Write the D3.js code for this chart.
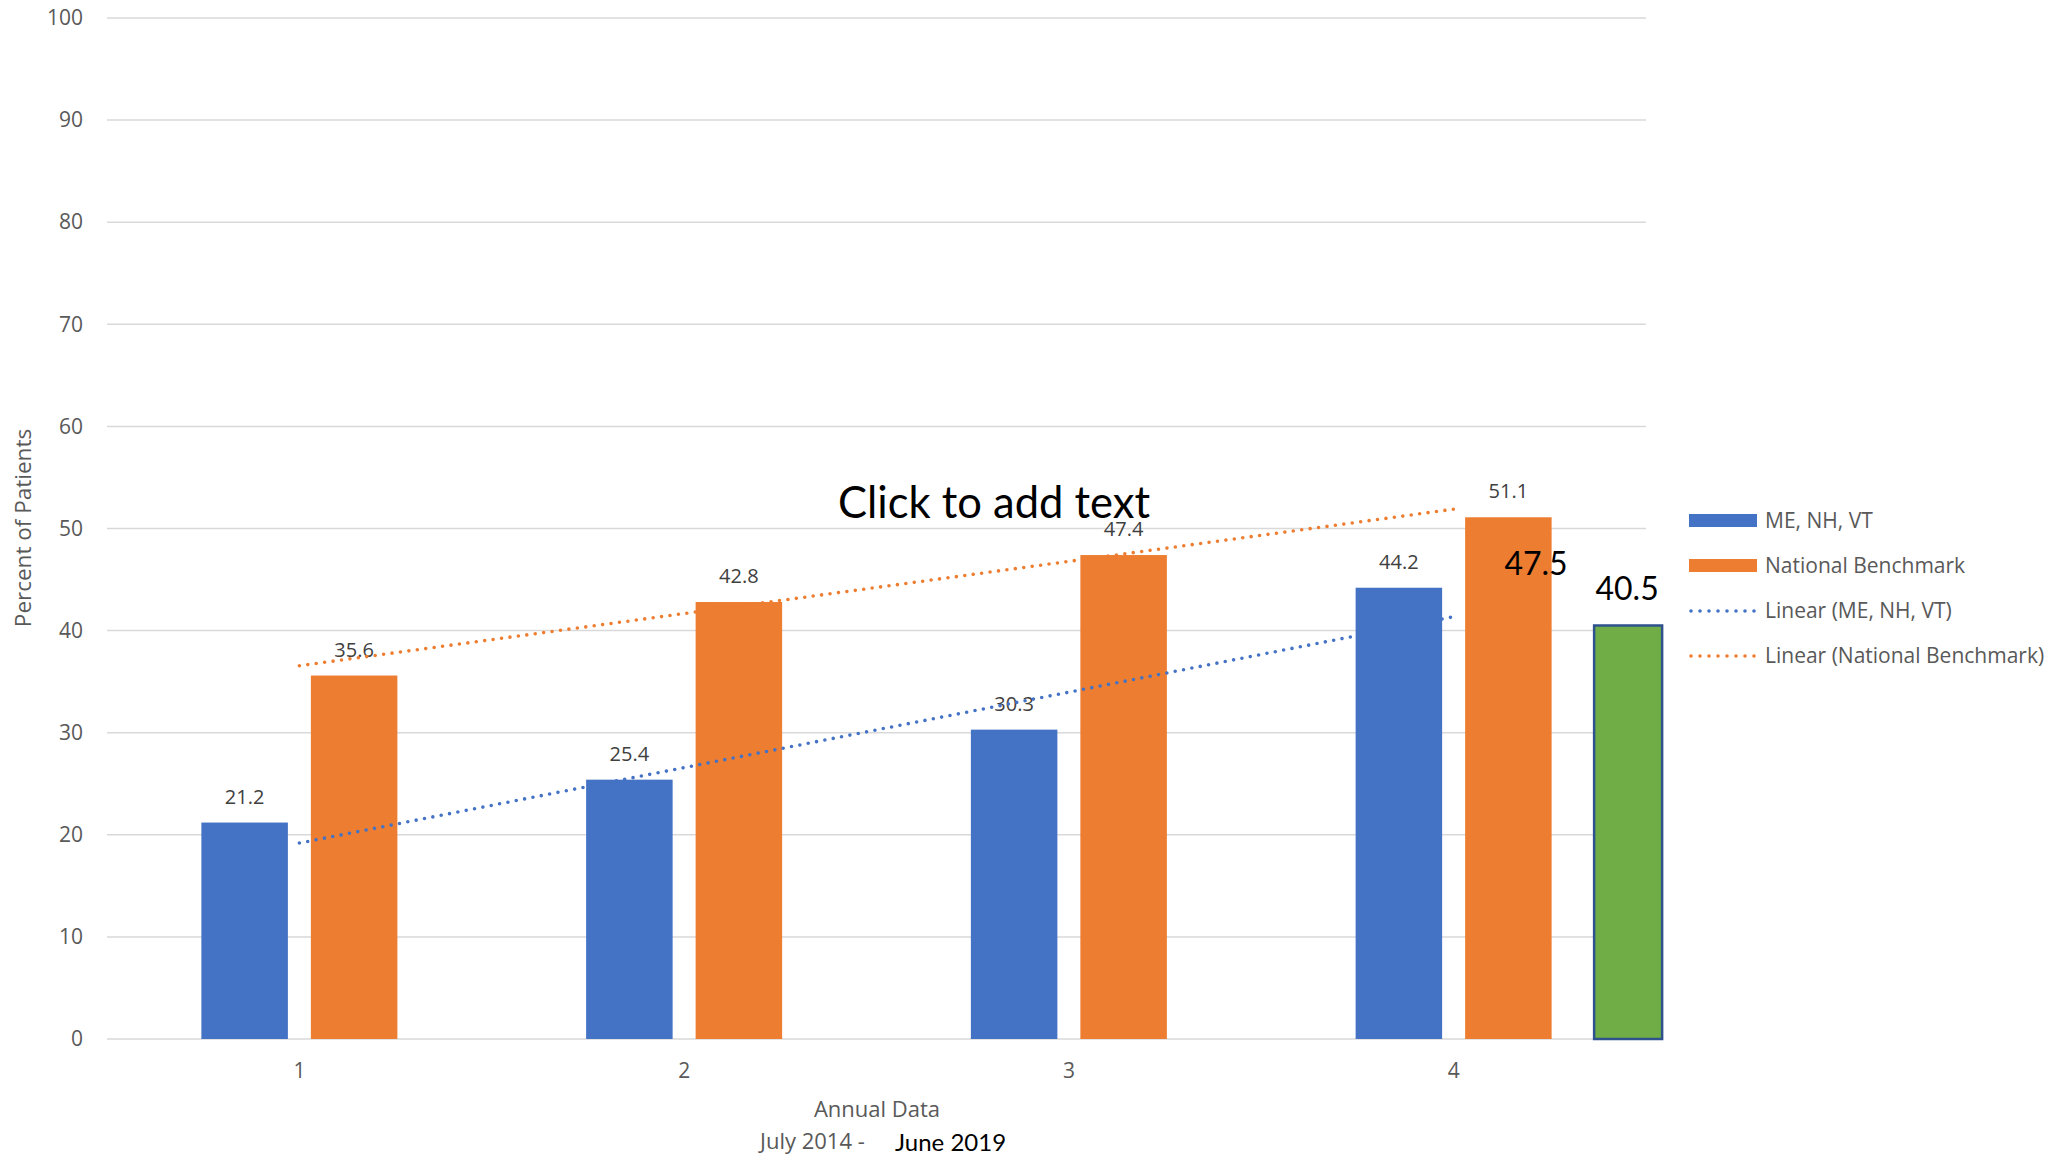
<!DOCTYPE html>
<html>
<head>
<meta charset="utf-8">
<script src="https://cdn.jsdelivr.net/npm/d3@7/dist/d3.min.js"></script>
<style>
  html, body { margin: 0; padding: 0; background: #fff; }
  svg { display: block; }
</style>
</head>
<body>
<svg id="chart" width="2057" height="1156"></svg>
<script>
// Annual data, July 2014 - June 2019
const categories = ["1", "2", "3", "4"];
const seriesNames = ["ME, NH, VT", "National Benchmark"];
const regionValues = [21.2, 25.4, 30.3, 44.2];
const benchmarkValues = [35.6, 42.8, 47.4, 51.1];
const yTicks = [0, 10, 20, 30, 40, 50, 60, 70, 80, 90, 100];
const highlightValue = 40.5;     // green box beside year 4
const calloutValue = 47.5;       // large figure over the year-4 benchmark bar
const legendLabels = ["ME, NH, VT", "National Benchmark", "Linear (ME, NH, VT)", "Linear (National Benchmark)"];

const colors = { region: "#4472C4", bench: "#ED7D31", green: "#70AD47", greenEdge: "#2F528F",
                 grid: "#D9D9D9", axisText: "#595959", label: "#404040" };
const grayFont = "'Open Sans', 'Noto Sans', sans-serif";
const blackFont = "Lato, 'Open Sans', sans-serif";

const svg = d3.select("#chart");
const plot = { left: 107, right: 1646, top: 18, bottom: 1039 };

const x = d3.scaleBand().domain(categories).range([plot.left, plot.right]).padding(0);
const y = d3.scaleLinear().domain([0, 100]).range([plot.bottom, plot.top]);
const xSub = d3.scaleBand().domain(seriesNames).range([-98, 98]).paddingInner(0.21);

// gridlines
svg.append("g").selectAll("line").data(yTicks).join("line")
  .attr("x1", plot.left).attr("x2", plot.right)
  .attr("y1", d => y(d)).attr("y2", d => y(d))
  .attr("stroke", colors.grid).attr("stroke-width", 1.5);

// y axis tick labels
const yAxis = d3.axisLeft(y).tickValues(yTicks).tickSize(0).tickPadding(0);
const yg = svg.append("g").attr("transform", `translate(83,0)`).call(yAxis);
yg.select(".domain").remove();
yg.selectAll("text").attr("fill", colors.axisText).style("font-family", grayFont).style("font-size", "21px");

// x axis tick labels
const xAxis = d3.axisBottom(x).tickSize(0).tickPadding(0);
const xg = svg.append("g").attr("transform", `translate(0,1063)`).call(xAxis);
xg.select(".domain").remove();
xg.selectAll("text").attr("fill", colors.axisText).style("font-family", grayFont).style("font-size", "21px");

// bars
const rows = categories.map((c, i) => ({ c, vals: [regionValues[i], benchmarkValues[i]] }));
const seriesColors = [colors.region, colors.bench];
const groups = svg.append("g").selectAll("g").data(rows).join("g")
  .attr("transform", d => `translate(${x(d.c) + x.bandwidth() / 2},0)`);
groups.selectAll("rect").data(d => d.vals.map((v, k) => ({ v, k }))).join("rect")
  .attr("x", d => xSub(seriesNames[d.k]))
  .attr("width", xSub.bandwidth())
  .attr("y", d => y(d.v))
  .attr("height", d => y(0) - y(d.v))
  .attr("fill", d => seriesColors[d.k]);

// data labels
groups.selectAll("text").data(d => d.vals.map((v, k) => ({ v, k }))).join("text")
  .attr("x", d => xSub(seriesNames[d.k]) + xSub.bandwidth() / 2)
  .attr("y", d => y(d.v) - 19)
  .attr("text-anchor", "middle")
  .attr("fill", colors.label)
  .style("font-family", grayFont).style("font-size", "20px")
  .text(d => d.v.toFixed(1));

// linear trendlines (least squares over category index)
function linearFit(vals) {
  const xs = vals.map((_, i) => i + 1);
  const mx = d3.mean(xs), my = d3.mean(vals);
  const slope = d3.sum(xs, (xi, i) => (xi - mx) * (vals[i] - my)) / d3.sum(xs, xi => (xi - mx) ** 2);
  return xi => my + slope * (xi - mx);
}
const centerX = i => x(categories[i]) + x.bandwidth() / 2;
[[regionValues, colors.region], [benchmarkValues, colors.bench]].forEach(([vals, col]) => {
  const f = linearFit(vals);
  const pts = [1, vals.length].map(xi => [centerX(xi - 1), y(f(xi))]);
  svg.append("path").attr("d", d3.line()(pts))
    .attr("fill", "none").attr("stroke", col).attr("stroke-width", 3.6)
    .attr("stroke-linecap", "round").attr("stroke-dasharray", "0 8.5");
});

// green highlight box beside year 4
const gx = x("4") + x.bandwidth() / 2 + 140.5;
svg.append("rect")
  .attr("x", gx).attr("width", 68)
  .attr("y", y(highlightValue)).attr("height", y(0) - y(highlightValue))
  .attr("fill", colors.green).attr("stroke", colors.greenEdge).attr("stroke-width", 2.5);
svg.append("text").attr("x", gx + 33).attr("y", 600).attr("text-anchor", "middle")
  .style("font-family", blackFont).style("font-size", "32px").attr("fill", "#000")
  .text(highlightValue.toFixed(1));
svg.append("text").attr("x", 1536).attr("y", 575).attr("text-anchor", "middle")
  .style("font-family", blackFont).style("font-size", "32px").attr("fill", "#000")
  .text(calloutValue.toFixed(1));

// placeholder title box text
svg.append("text").attr("x", 994).attr("y", 518).attr("text-anchor", "middle")
  .style("font-family", blackFont).style("font-size", "43.5px").attr("fill", "#000")
  .text("Click to add text");

// axis titles
svg.append("text").attr("transform", "translate(31,528) rotate(-90)").attr("text-anchor", "middle")
  .attr("fill", colors.axisText).style("font-family", grayFont).style("font-size", "22.5px")
  .text("Percent of Patients");
svg.append("text").attr("x", 877).attr("y", 1117).attr("text-anchor", "middle")
  .attr("fill", colors.axisText).style("font-family", grayFont).style("font-size", "22px")
  .text("Annual Data");
svg.append("text").attr("x", 760).attr("y", 1149)
  .attr("fill", colors.axisText).style("font-family", grayFont).style("font-size", "22px")
  .text("July 2014 -");
svg.append("text").attr("x", 895).attr("y", 1151)
  .attr("fill", "#000").style("font-family", blackFont).style("font-size", "24px")
  .text("June 2019");

// legend
const legend = svg.append("g").attr("transform", "translate(1689,0)");
const legendY = [521, 566, 611, 656];
const legendItems = legendLabels.map((t, i) => ({ t, i, col: i % 2 === 0 ? colors.region : colors.bench, line: i >= 2 }));
const li = legend.selectAll("g").data(legendItems).join("g")
  .attr("transform", d => `translate(0,${legendY[d.i]})`);
li.filter(d => !d.line).append("rect")
  .attr("x", 0).attr("y", -7).attr("width", 68).attr("height", 13).attr("fill", d => d.col);
li.filter(d => d.line).append("line")
  .attr("x1", 2).attr("x2", 66).attr("y1", 0).attr("y2", 0)
  .attr("stroke", d => d.col).attr("stroke-width", 3.6)
  .attr("stroke-linecap", "round").attr("stroke-dasharray", "0 9");
li.append("text").attr("x", 76).attr("y", 0).attr("dy", "0.35em")
  .attr("fill", colors.axisText).style("font-family", grayFont).style("font-size", "21px")
  .text(d => d.t);
</script>
</body>
</html>
